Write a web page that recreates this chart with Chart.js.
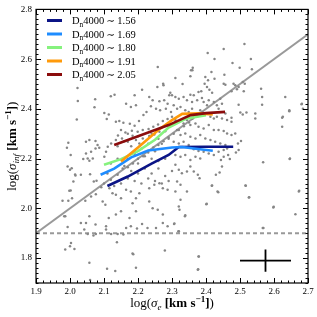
<!DOCTYPE html>
<html>
<head>
<meta charset="utf-8">
<script src="https://cdn.jsdelivr.net/npm/chart.js@4.4.0/dist/chart.umd.min.js"></script>
<style>
  html, body { margin: 0; padding: 0; background: #fff; }
  #wrap { width: 317px; height: 317px; }
</style>
</head>
<body>
<div id="wrap"><canvas id="chart" width="317" height="317"></canvas></div>
<script>
// tick labels
var xTicks = [1.9, 2.0, 2.1, 2.2, 2.3, 2.4, 2.5, 2.6, 2.7];
var yTicks = [1.8, 2.0, 2.2, 2.4, 2.6, 2.8];

// legend values (Dn4000 bins)
var dnLabels = ['1.56', '1.69', '1.80', '1.91', '2.05'];
var dnColors = ['#0b1486', '#1e8cff', '#86f27e', '#ff9a0a', '#8b0c0c'];

// median relations per Dn4000 bin, [log sigma_e, log sigma_inf]
var dn156 = [[2.11, 2.09], [2.17, 2.128], [2.24, 2.18], [2.29, 2.215], [2.32, 2.247], [2.40, 2.248], [2.48, 2.248]];
var dn169 = [[2.09, 2.135], [2.13, 2.16], [2.18, 2.205], [2.23, 2.233], [2.30, 2.245], [2.33, 2.247], [2.37, 2.24], [2.42, 2.232]];
var dn180 = [[2.10, 2.175], [2.15, 2.198], [2.20, 2.23], [2.25, 2.276], [2.29, 2.325], [2.34, 2.36], [2.40, 2.375]];
var dn191 = [[2.15, 2.188], [2.20, 2.245], [2.26, 2.315], [2.30, 2.355], [2.33, 2.38], [2.38, 2.382], [2.42, 2.378]];
var dn205 = [[2.13, 2.255], [2.20, 2.29], [2.29, 2.335], [2.33, 2.36], [2.355, 2.375], [2.40, 2.383], [2.456, 2.388]];

// reference lines
var oneToOne = [[1.9, 1.9], [2.7, 2.7]];
var floorLine = [[1.9, 1.9], [2.7, 1.9]];

// typical error bar
var errX = [[2.5, 1.79], [2.65, 1.79]];
var errY = [[2.575, 1.745], [2.575, 1.835]];

// individual galaxies
var galaxyPoints = [
  [2.258, 2.568], [2.275, 2.495], [2.212, 2.477], [2.131, 2.457], [2.120, 2.451], [2.190, 2.455], [2.233, 2.448],
  [2.243, 2.435], [2.263, 2.431], [2.277, 2.435], [2.292, 2.455], [2.295, 2.465], [2.287, 2.421], [2.023, 2.432],
  [2.022, 2.484], [2.072, 2.407], [2.074, 2.439], [2.020, 2.357], [2.101, 2.383], [2.114, 2.377], [2.108, 2.359],
  [2.135, 2.348], [2.145, 2.351], [2.157, 2.344], [2.176, 2.340], [2.190, 2.332], [2.203, 2.351], [2.216, 2.375],
  [2.225, 2.388], [2.238, 2.411], [2.253, 2.401], [2.265, 2.395], [2.282, 2.401], [2.297, 2.388], [2.165, 2.421],
  [2.179, 2.408], [2.194, 2.415], [2.150, 2.315], [2.163, 2.305], [2.182, 2.312], [2.199, 2.308], [2.214, 2.315],
  [2.231, 2.319], [2.245, 2.328], [2.259, 2.337], [2.273, 2.351], [2.287, 2.359],
  [1.995, 2.264], [1.991, 2.244], [2.002, 2.215], [2.047, 2.268], [2.057, 2.275], [2.075, 2.271], [2.081, 2.255],
  [2.086, 2.244], [2.075, 2.241], [2.062, 2.228], [2.047, 2.221], [2.039, 2.199], [2.052, 2.201], [2.057, 2.191],
  [2.067, 2.201], [2.101, 2.208], [2.106, 2.228], [2.111, 2.248], [2.121, 2.261], [2.135, 2.275], [2.141, 2.293],
  [2.153, 2.281], [2.170, 2.268], [2.184, 2.292], [2.194, 2.275], [2.204, 2.261], [2.214, 2.281], [2.233, 2.291],
  [2.248, 2.297], [2.263, 2.308],
  [1.993, 2.168], [2.000, 2.155], [2.016, 2.132], [2.032, 2.135], [2.059, 2.137], [2.070, 2.108], [2.078, 2.111],
  [2.092, 2.085], [2.010, 2.108], [1.998, 2.071], [2.006, 2.041], [1.978, 2.031], [2.045, 2.031], [2.062, 2.048],
  [2.076, 2.057], [2.096, 2.028], [2.104, 2.015], [2.116, 2.081], [2.125, 2.061], [2.135, 2.055], [2.150, 2.041],
  [2.165, 2.075], [2.179, 2.068], [2.194, 2.041], [2.204, 2.061], [2.233, 2.081], [2.248, 2.095], [2.263, 2.101],
  [2.273, 2.081], [2.287, 2.075], [2.233, 2.028], [2.243, 2.001], [2.258, 1.995], [2.273, 1.975], [2.194, 1.988],
  [2.184, 2.021], [2.175, 1.961], [2.150, 1.988], [2.135, 1.975], [2.114, 1.961], [2.106, 1.928], [2.075, 1.935],
  [2.057, 1.968], [2.047, 1.941], [2.032, 1.941], [2.042, 1.915], [2.052, 1.897], [2.069, 1.891], [2.076, 1.897],
  [2.106, 1.915], [2.121, 1.897], [2.140, 1.897], [2.157, 1.895], [2.165, 1.921], [2.179, 1.928], [2.197, 1.919],
  [2.212, 1.937], [2.228, 1.921], [2.253, 1.921], [2.273, 1.941], [2.287, 1.928], [1.986, 1.968], [1.993, 1.925],
  [2.005, 2.161], [2.015, 2.136], [1.995, 2.031], [2.002, 2.072], [1.983, 1.968],
  [2.003, 1.861], [2.000, 1.848], [1.986, 1.835], [2.138, 1.864], [2.184, 1.819], [2.194, 1.761], [2.057, 1.781],
  [2.109, 1.757], [2.133, 1.748], [2.059, 1.712], [2.013, 1.837], [2.186, 1.816], [2.279, 1.831], [2.379, 1.807],
  [2.377, 1.755], [2.569, 1.921], [2.319, 1.908],
  [2.22, 2.21], [2.24, 2.20], [2.26, 2.19], [2.28, 2.20], [2.20, 2.18], [2.25, 2.23], [2.27, 2.26], [2.29, 2.28],
  [2.23, 2.26], [2.21, 2.24], [2.19, 2.22], [2.17, 2.20], [2.16, 2.17], [2.14, 2.20], [2.18, 2.15], [2.20, 2.14],
  [2.22, 2.16], [2.24, 2.14], [2.26, 2.16], [2.28, 2.13], [2.30, 2.15], [2.29, 2.11], [2.27, 2.10], [2.25, 2.11],
  [2.23, 2.12], [2.21, 2.10], [2.19, 2.11], [2.17, 2.12], [2.15, 2.10], [2.13, 2.09], [2.11, 2.14], [2.12, 2.18],
  [2.14, 2.25], [2.16, 2.27], [2.18, 2.25], [2.26, 2.28], [2.28, 2.31], [2.24, 2.30], [2.20, 2.29], [2.17, 2.30],
  [2.10, 2.10], [2.12, 2.115], [2.14, 2.135], [2.155, 2.16], [2.17, 2.165], [2.185, 2.18], [2.20, 2.20],
  [2.215, 2.21], [2.23, 2.225], [2.245, 2.245], [2.26, 2.255], [2.275, 2.27], [2.29, 2.285], [2.305, 2.30],
  [2.32, 2.315], [2.335, 2.33], [2.35, 2.345], [2.36, 2.36], [2.375, 2.37], [2.39, 2.385],
  [2.513, 2.661], [2.452, 2.641], [2.405, 2.625], [2.425, 2.601], [2.532, 2.601], [2.478, 2.585], [2.499, 2.565],
  [2.535, 2.559], [2.361, 2.565], [2.356, 2.555], [2.354, 2.531], [2.416, 2.548], [2.454, 2.537], [2.398, 2.528],
  [2.406, 2.515], [2.425, 2.521], [2.310, 2.524], [2.331, 2.500], [2.396, 2.501], [2.403, 2.488], [2.378, 2.468],
  [2.386, 2.471], [2.410, 2.477], [2.418, 2.465], [2.452, 2.501], [2.457, 2.497], [2.481, 2.501], [2.486, 2.495],
  [2.496, 2.488], [2.508, 2.508], [2.514, 2.501], [2.491, 2.479], [2.475, 2.471], [2.511, 2.471], [2.562, 2.481],
  [2.565, 2.448], [2.633, 2.448], [2.682, 2.421], [2.685, 2.401], [2.645, 2.391], [2.624, 2.364], [2.624, 2.328],
  [2.496, 2.417], [2.565, 2.417], [2.545, 2.381], [2.545, 2.361], [2.519, 2.385], [2.508, 2.377], [2.501, 2.385],
  [2.475, 2.364], [2.475, 2.348], [2.503, 2.271], [2.494, 2.261], [2.496, 2.235], [2.488, 2.225], [2.465, 2.215],
  [2.470, 2.199], [2.452, 2.208], [2.444, 2.195], [2.447, 2.168], [2.440, 2.144], [2.429, 2.135], [2.418, 2.092],
  [2.434, 2.068], [2.401, 2.017], [2.516, 2.092], [2.526, 2.044], [2.568, 2.185], [2.646, 2.199], [2.673, 2.068],
  [2.599, 2.007], [2.663, 1.976], [2.567, 1.921], [2.307, 1.939], [2.320, 1.908], [2.378, 1.807], [2.376, 1.753],
  [2.300, 2.455], [2.310, 2.448], [2.320, 2.441], [2.334, 2.448], [2.344, 2.435], [2.354, 2.457], [2.364, 2.455],
  [2.359, 2.428], [2.374, 2.435], [2.388, 2.444], [2.393, 2.428], [2.403, 2.415], [2.408, 2.435], [2.423, 2.428],
  [2.432, 2.415], [2.437, 2.401], [2.442, 2.441], [2.447, 2.421], [2.305, 2.415], [2.315, 2.401], [2.325, 2.408],
  [2.339, 2.395], [2.349, 2.388], [2.359, 2.401], [2.374, 2.381], [2.383, 2.395], [2.398, 2.381], [2.413, 2.368],
  [2.423, 2.361], [2.432, 2.368], [2.447, 2.361], [2.457, 2.381], [2.462, 2.355], [2.300, 2.368], [2.310, 2.355],
  [2.320, 2.348], [2.334, 2.341], [2.344, 2.355], [2.354, 2.335], [2.369, 2.341], [2.378, 2.328], [2.393, 2.321],
  [2.408, 2.335], [2.423, 2.315], [2.437, 2.315], [2.452, 2.311], [2.462, 2.301], [2.475, 2.295], [2.486, 2.301],
  [2.315, 2.315], [2.325, 2.295], [2.339, 2.301], [2.354, 2.288], [2.369, 2.281], [2.383, 2.295], [2.398, 2.281],
  [2.413, 2.275], [2.427, 2.268], [2.442, 2.261], [2.457, 2.255], [2.305, 2.268], [2.320, 2.261], [2.334, 2.268],
  [2.349, 2.255], [2.364, 2.238], [2.378, 2.231], [2.393, 2.228], [2.408, 2.221], [2.423, 2.215], [2.437, 2.228],
  [2.452, 2.235], [2.462, 2.241], [2.310, 2.215], [2.325, 2.208], [2.339, 2.215], [2.354, 2.195], [2.369, 2.208],
  [2.383, 2.201], [2.310, 2.175], [2.320, 2.155], [2.329, 2.141], [2.344, 2.148], [2.354, 2.168], [2.364, 2.148],
  [2.376, 2.135], [2.381, 2.121], [2.315, 2.108], [2.325, 2.095], [2.310, 2.068], [2.344, 2.068], [2.325, 2.035],
  [2.320, 2.008], [2.322, 1.995], [2.339, 1.972],
  [2.36, 2.555], [2.274, 2.501], [2.257, 2.488], [2.626, 2.368], [2.645, 2.395], [2.681, 2.419], [2.647, 2.201],
  [2.674, 2.071], [2.598, 2.004], [2.517, 2.091], [2.527, 2.045], [2.417, 2.091], [2.436, 2.065], [2.402, 2.019],
  [2.306, 1.937], [2.338, 1.968]
];

function toXY(arr) {
  return arr.map(function (p) { return { x: p[0], y: p[1] }; });
}

var serif = "'Liberation Serif', 'DejaVu Serif', serif";

// draw text pieces with italic / bold / sub / sup, starting at (0, 0) baseline
function richWidth(ctx, parts, size) {
  var w = 0;
  parts.forEach(function (p) {
    var s = p.s ? size * 0.7 : size;
    ctx.font = (p.i ? 'italic ' : '') + (p.b ? 'bold ' : '') + s + 'px ' + serif;
    w += ctx.measureText(p.t).width;
  });
  return w;
}
function drawRich(ctx, parts, size) {
  var x = 0;
  parts.forEach(function (p) {
    var s = p.s ? size * 0.7 : size;
    var dy = p.s === 'sub' ? size * 0.25 : (p.s === 'sup' ? -size * 0.42 : 0);
    ctx.font = (p.i ? 'italic ' : '') + (p.b ? 'bold ' : '') + s + 'px ' + serif;
    ctx.fillText(p.t, x, dy);
    x += ctx.measureText(p.t).width;
  });
}

var xTitle = [{ t: 'log(' }, { t: 'σ', i: 1 }, { t: 'e', i: 1, s: 'sub' }, { t: ' [km s', b: 1 }, { t: '−1', b: 1, s: 'sup' }, { t: ']', b: 1 }, { t: ')' }];
var yTitle = [{ t: 'log(' }, { t: 'σ', i: 1 }, { t: 'inf', i: 1, s: 'sub' }, { t: ' [km s', b: 1 }, { t: '−1', b: 1, s: 'sup' }, { t: ']', b: 1 }, { t: ')' }];

var decorations = {
  id: 'decorations',
  afterDraw: function (chart) {
    var ctx = chart.ctx;
    var a = chart.chartArea;
    var xs = chart.scales.x, ys = chart.scales.y;
    ctx.save();
    ctx.strokeStyle = '#000';
    ctx.lineWidth = 1;
    ctx.beginPath();
    // inward ticks, minor every 0.02
    for (var v = 190; v <= 270; v += 2) {
      var px = Math.round(xs.getPixelForValue(v / 100)) + 0.5;
      var len = v % 10 === 0 ? 5 : 2.5;
      ctx.moveTo(px, a.bottom); ctx.lineTo(px, a.bottom - len);
      ctx.moveTo(px, a.top); ctx.lineTo(px, a.top + len);
    }
    for (var w = 170; w <= 280; w += 2) {
      var py = Math.round(ys.getPixelForValue(w / 100)) + 0.5;
      var len2 = w % 20 === 0 ? 5 : 2.5;
      ctx.moveTo(a.left, py); ctx.lineTo(a.left + len2, py);
      ctx.moveTo(a.right, py); ctx.lineTo(a.right - len2, py);
    }
    ctx.stroke();
    ctx.lineWidth = 1.2;
    ctx.strokeRect(a.left, a.top, a.right - a.left, a.bottom - a.top);

    // axis titles
    ctx.fillStyle = '#000';
    ctx.textBaseline = 'alphabetic';
    ctx.textAlign = 'left';
    var size = 13;
    var tw = richWidth(ctx, xTitle, size);
    ctx.save();
    ctx.translate((a.left + a.right) / 2 - tw / 2, 307);
    drawRich(ctx, xTitle, size);
    ctx.restore();

    var th = richWidth(ctx, yTitle, size);
    ctx.save();
    ctx.translate(16, (a.top + a.bottom) / 2 + th / 2);
    ctx.rotate(-Math.PI / 2);
    drawRich(ctx, yTitle, size);
    ctx.restore();

    // legend
    for (var i = 0; i < dnLabels.length; i++) {
      var ly = 20.5 + i * 13.5;
      ctx.strokeStyle = dnColors[i];
      ctx.lineWidth = 3;
      ctx.beginPath();
      ctx.moveTo(47, ly); ctx.lineTo(62, ly);
      ctx.stroke();
      ctx.save();
      ctx.translate(72, ly + 3.5);
      drawRich(ctx, [{ t: 'D' }, { t: 'n', s: 'sub' }, { t: '4000\u2009∼\u2009' + dnLabels[i] }], 10.5);
      ctx.restore();
    }
    ctx.restore();
  }
};

function lineSet(data, color, width, order, dash) {
  return {
    type: 'line',
    data: toXY(data),
    borderColor: color,
    borderWidth: width,
    borderDash: dash || [],
    pointRadius: 0,
    fill: false,
    tension: 0,
    order: order
  };
}

var bins = [dn156, dn169, dn180, dn191, dn205];
var datasets = [
  lineSet(oneToOne, '#999999', 2, 10),
  lineSet(floorLine, '#999999', 2, 10, [4, 3]),
  {
    type: 'scatter',
    data: toXY(galaxyPoints),
    backgroundColor: '#868686',
    borderWidth: 0,
    pointRadius: 1.25,
    order: 8
  },
  lineSet(errX, '#000', 1.8, 1),
  lineSet(errY, '#000', 1.8, 1)
];
bins.forEach(function (b, i) {
  datasets.push(lineSet(b, dnColors[i], 2.6, 6 - i));
});

new Chart(document.getElementById('chart'), {
  type: 'scatter',
  data: { datasets: datasets },
  options: {
    responsive: false,
    animation: false,
    devicePixelRatio: 1,
    layout: { padding: { top: 7, right: 9, left: 0, bottom: 0 } },
    plugins: { legend: { display: false }, tooltip: { enabled: false } },
    scales: {
      x: {
        type: 'linear',
        min: 1.9,
        max: 2.7,
        grid: { display: false, drawTicks: false },
        border: { display: false },
        afterBuildTicks: function (s) { s.ticks = xTicks.map(function (v) { return { value: v }; }); },
        afterFit: function (s) { s.height = 34; },
        ticks: {
          autoSkip: false,
          maxRotation: 0,
          padding: 3,
          color: '#000',
          font: { family: serif, size: 9 },
          callback: function (v) { return v.toFixed(1); }
        }
      },
      y: {
        type: 'linear',
        min: 1.7,
        max: 2.8,
        grid: { display: false, drawTicks: false },
        border: { display: false },
        afterBuildTicks: function (s) { s.ticks = yTicks.map(function (v) { return { value: v }; }); },
        afterFit: function (s) { s.width = 36; },
        ticks: {
          autoSkip: false,
          padding: 4,
          color: '#000',
          font: { family: serif, size: 9 },
          callback: function (v) { return v.toFixed(1); }
        }
      }
    }
  },
  plugins: [decorations]
});
</script>
</body>
</html>
